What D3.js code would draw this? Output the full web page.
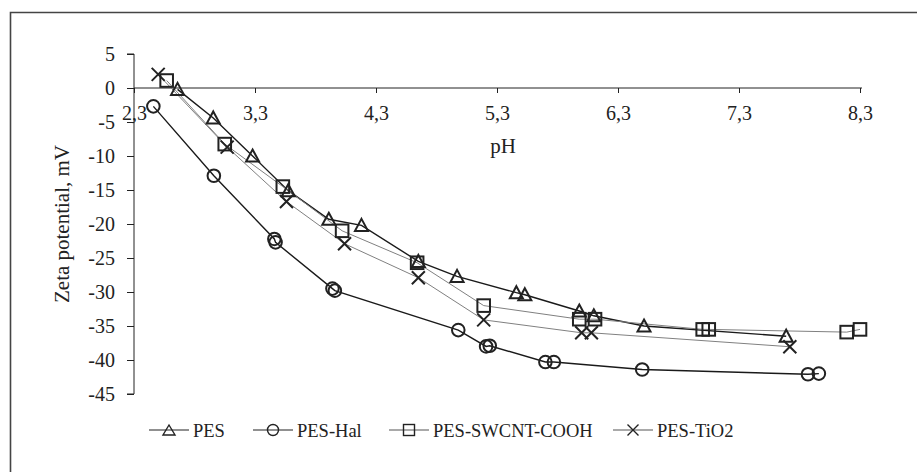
<!DOCTYPE html>
<html><head><meta charset="utf-8">
<script src="https://cdn.jsdelivr.net/npm/d3@7"></script>
<style>body{margin:0;background:#fff}svg{display:block}text{font-family:"Liberation Serif","Times New Roman",serif;fill:#222}</style>
</head><body><svg id="c" width="917" height="472"></svg>
<script>
const xTicks = [2.3, 3.3, 4.3, 5.3, 6.3, 7.3, 8.3];
const xTickLabels = ["2,3", "3,3", "4,3", "5,3", "6,3", "7,3", "8,3"];
const yTicks = [5, 0, -5, -10, -15, -20, -25, -30, -35, -40, -45];
const yTickLabels = ["5", "0", "-5", "-10", "-15", "-20", "-25", "-30", "-35", "-40", "-45"];

const pesPH = [2.66, 2.955, 3.28, 3.575, 3.91, 4.18, 4.65, 4.97, 5.46, 5.53, 5.98, 6.1, 6.515, 7.69];
const pesZ  = [-0.2, -4.4, -10.0, -15.1, -19.3, -20.2, -25.5, -27.7, -30.1, -30.4, -32.8, -33.5, -35.0, -36.5];

const halPH = [2.46, 2.96, 3.46, 3.47, 3.94, 3.96, 4.98, 5.21, 5.24, 5.70, 5.77, 6.50, 7.87, 7.96];
const halZ  = [-2.7, -12.9, -22.2, -22.7, -29.5, -29.8, -35.6, -38.0, -37.9, -40.3, -40.3, -41.4, -42.1, -42.0];

const swPH = [2.57, 3.05, 3.53, 4.02, 4.64, 5.19, 5.98, 6.11, 7.0, 7.05, 8.19, 8.3];
const swZ  = [1.1, -8.25, -14.5, -21.0, -25.7, -32.0, -34.0, -34.0, -35.5, -35.5, -35.9, -35.5];

const tiPH = [2.5, 3.07, 3.56, 4.04, 4.65, 5.19, 6.0, 6.08, 7.72];
const tiZ  = [2.0, -8.7, -16.7, -22.9, -27.9, -34.1, -36.0, -36.0, -38.05];

const seriesNames = ["PES", "PES-Hal", "PES-SWCNT-COOH", "PES-TiO2"];

const series = [
  {name: seriesNames[0], x: pesPH, y: pesZ, shape: "tri", color: "#1a1a1a", w: 1.4},
  {name: seriesNames[1], x: halPH, y: halZ, shape: "circ", color: "#1a1a1a", w: 1.4},
  {name: seriesNames[2], x: swPH, y: swZ, shape: "sq", color: "#808080", w: 1},
  {name: seriesNames[3], x: tiPH, y: tiZ, shape: "x", color: "#808080", w: 1}
];

const svg = d3.select("#c");
const x = d3.scaleLinear().domain([2.3, 8.3]).range([134, 860]);
const y = d3.scaleLinear().domain([-45, 5]).range([394, 54]);

// frame
svg.append("path").attr("d", "M10.5,472 L10.5,12.5 L917,12.5").attr("fill", "none").attr("stroke", "#444").attr("stroke-width", 1.6);

// y axis
const yAxis = d3.axisLeft(y).tickValues(yTicks).tickSize(7).tickPadding(12)
  .tickFormat((d, i) => yTickLabels[i]);
const gy = svg.append("g").attr("transform", `translate(${x(2.3)},0)`).call(yAxis);
gy.select(".domain").attr("stroke", "#222").attr("d", `M-7,${y(5)}H0V${y(-45)}H-7`);
gy.selectAll("line").attr("stroke", "#222");
gy.selectAll("text").attr("font-size", 20).attr("font-family", "Liberation Serif").attr("fill", "#222");

// x axis at y=0
const xAxis = d3.axisBottom(x).tickValues(xTicks).tickSize(5).tickPadding(13)
  .tickFormat((d, i) => xTickLabels[i]);
const gx = svg.append("g").attr("transform", `translate(0,${y(0)})`).call(xAxis);
gx.select(".domain").attr("stroke", "#222").attr("d", `M${x(2.3)},0H${x(8.3) + 2}`);
gx.selectAll("line").attr("stroke", "#222");
gx.selectAll("text").attr("font-size", 20).attr("font-family", "Liberation Serif").attr("fill", "#222");

// axis titles
svg.append("text").attr("x", 503).attr("y", 153).attr("text-anchor", "middle").attr("font-size", 21).text("pH");
svg.append("text").attr("transform", `translate(69,${(y(5) + y(-45)) / 2}) rotate(-90)`).attr("text-anchor", "middle").attr("font-size", 21).text("Zeta potential, mV");

function marker(g, shape, cx, cy) {
  const s = 6.5;
  if (shape === "tri") {
    g.append("path").attr("d", `M${cx},${cy - s} L${cx + s},${cy + s * 0.85} L${cx - s},${cy + s * 0.85} Z`);
  } else if (shape === "circ") {
    g.append("circle").attr("cx", cx).attr("cy", cy).attr("r", 6.3);
  } else if (shape === "sq") {
    g.append("rect").attr("x", cx - 6.3).attr("y", cy - 6.3).attr("width", 12.6).attr("height", 12.6);
  } else {
    g.append("path").attr("d", `M${cx - 6.5},${cy - 6.5} L${cx + 6.5},${cy + 6.5} M${cx + 6.5},${cy - 6.5} L${cx - 6.5},${cy + 6.5}`);
  }
}

const line = d3.line().x(d => x(d[0])).y(d => y(d[1]));
series.forEach(s => {
  const pts = s.x.map((v, i) => [v, s.y[i]]);
  svg.append("path").datum(pts).attr("d", line).attr("fill", "none").attr("stroke", s.color).attr("stroke-width", s.w);
});
series.forEach(s => {
  const g = svg.append("g").attr("fill", "none").attr("stroke", "#222").attr("stroke-width", 2);
  s.x.forEach((v, i) => marker(g, s.shape, x(v), y(s.y[i])));
});

// legend
const legX = [149, 253, 389, 613];
const legY = 430;
series.forEach((s, i) => {
  const g = svg.append("g");
  g.append("line").attr("x1", legX[i]).attr("x2", legX[i] + 40).attr("y1", legY).attr("y2", legY).attr("stroke", s.color === "#808080" ? "#555" : "#222").attr("stroke-width", 1.2);
  const mg = g.append("g").attr("fill", "none").attr("stroke", "#222").attr("stroke-width", 1.4);
  const cx = legX[i] + 20;
  if (s.shape === "tri") mg.append("path").attr("d", `M${cx},${legY - 5} L${cx + 6},${legY + 5} L${cx - 6},${legY + 5} Z`);
  else if (s.shape === "circ") mg.append("circle").attr("cx", cx).attr("cy", legY).attr("r", 5.5);
  else if (s.shape === "sq") mg.append("rect").attr("x", cx - 5.5).attr("y", legY - 5.5).attr("width", 11).attr("height", 11);
  else mg.append("path").attr("d", `M${cx - 5.5},${legY - 5.5} L${cx + 5.5},${legY + 5.5} M${cx + 5.5},${legY - 5.5} L${cx - 5.5},${legY + 5.5}`);
  g.append("text").attr("x", legX[i] + 44).attr("y", legY + 7).attr("font-size", 18.5).text(s.name);
});
</script></body></html>
